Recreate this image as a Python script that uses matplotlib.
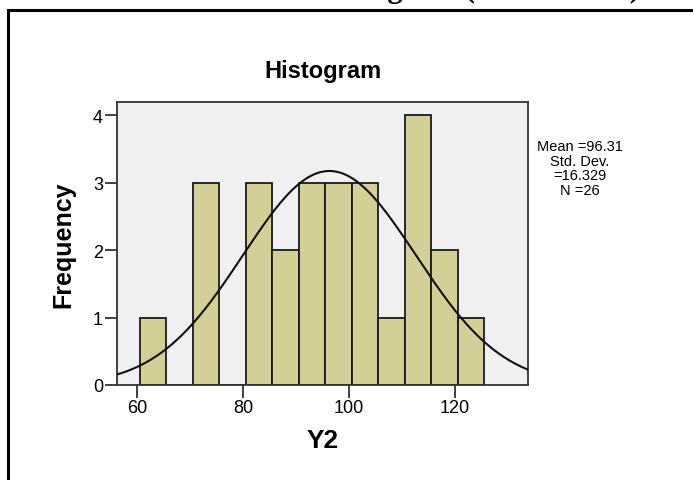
import numpy as np
import matplotlib
matplotlib.use("Agg")
import matplotlib.pyplot as plt
from matplotlib.lines import Line2D

# histogram data (bin width 5)
bin_lefts = [60.5, 65.5, 70.5, 75.5, 80.5, 85.5, 90.5, 95.5, 100.5, 105.5, 110.5, 115.5, 120.5]
counts = [1, 0, 3, 0, 3, 2, 3, 3, 3, 1, 4, 2, 1]
bin_width = 5
mean_y2 = 96.31
sd_y2 = 16.329
n_y2 = 26
x_ticks = [60, 80, 100, 120]
y_ticks = [0, 1, 2, 3, 4]

plt.rcParams['font.family'] = ['Liberation Sans', 'DejaVu Sans']

fig = plt.figure(figsize=(6.93, 4.81), dpi=100)
ax = fig.add_axes([117/693, 1 - 386/481, 411/693, 283/481])
ax.set_facecolor('#f0f0f0')

ax.bar(bin_lefts, counts, width=bin_width, align='edge', color='#d3cf97',
       edgecolor='#1a1a1a', linewidth=1.3, zorder=2)

# normal curve scaled to counts
xs = np.linspace(56, 134, 300)
ys = n_y2 * bin_width / (sd_y2 * np.sqrt(2 * np.pi)) * np.exp(-0.5 * ((xs - mean_y2) / sd_y2) ** 2)
ax.plot(xs, ys, color='#111111', linewidth=1.5, zorder=3)

ax.set_xlim(56.2, 133.8)
ax.set_ylim(0, 4.2)
ax.set_xticks(x_ticks)
ax.set_yticks(y_ticks)
ax.tick_params(axis='both', labelsize=13, length=9, width=1.3, color='#333333', pad=1)
for s in ax.spines.values():
    s.set_color('#333333')
    s.set_linewidth(1.3)

ax.set_title('Histogram', fontsize=17, fontweight='bold', pad=18)
ax.set_ylabel('Frequency', fontsize=18, fontweight='bold', labelpad=13)
ax.set_xlabel('Y2', fontsize=19, fontweight='bold', labelpad=9)

fig.text(580/693, 1 - 140/481,
         'Mean =%.2f\nStd. Dev.\n=%.3f\nN =%d' % (mean_y2, sd_y2, n_y2),
         ha='center', va='top', fontsize=10.5, linespacing=1.05)

# outer frame of the pasted chart
fig.add_artist(Line2D([8/693, 8/693], [0, 1 - 11/481], color='black', linewidth=2.2))
fig.add_artist(Line2D([8/693, 1], [1 - 11/481, 1 - 11/481], color='black', linewidth=2.2))

# caption above the frame, mostly cut off by the page edge
fig.text(640/693, 1 + 3/481, 'Histogram (Variable Y2)', ha='right', va='baseline',
         fontsize=22, fontweight='bold', family=['Liberation Serif', 'DejaVu Serif'])

fig.savefig('out.png', dpi=100)
